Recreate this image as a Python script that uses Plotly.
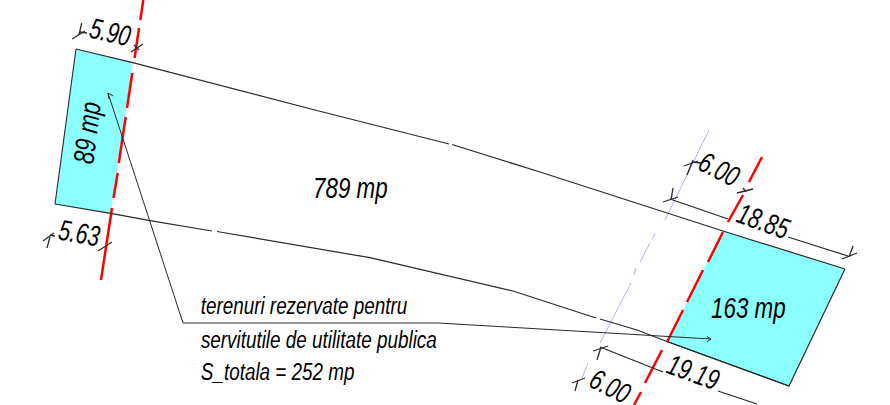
import plotly.graph_objects as go

nan = None
# --- drawing geometry, in reference drawing units ---
left_plot_x = [76, 132.7, 110.7, 55, 76]
left_plot_y = [49, 62.7, 213.3, 204, 49]
right_plot_x = [723, 845, 789, 667, 723]
right_plot_y = [231, 269, 386, 341.5, 231]

top_boundary_x = [76, 132.7, 315, 449, nan, 452, 540, 723, 845]
top_boundary_y = [49, 62.7, 110, 144, nan, 144.5, 172, 231, 269]
bottom_boundary_x = [55, 110.7, 150, 212, nan, 217, 250, 280, 370, 513, 540, 560, 596, nan, 600, 637, 667, 789, 845]
bottom_boundary_y = [204, 213.3, 220.7, 231, nan, 231.5, 237, 242, 257.7, 291, 300, 306.7, 318, nan, 319, 330, 341.5, 386, 269]

red_left_x = [143.3, 140.3, nan, 139, 134.6, nan, 132.3, 127, nan, 125.7, 118.8, nan, 117.7, 113.5, nan, 112, 101]
red_left_y = [0, 20, nan, 28, 58, nan, 73, 108, nan, 117, 163, nan, 173, 198, nan, 208, 280]
red_right_x = [762, 749, nan, 743, 728, nan, 723, 708, nan, 703, 687, nan, 683, 667, nan, 662, 645, nan, 641, 634]
red_right_y = [157, 182, nan, 195, 222, nan, 232, 262, nan, 270, 302, nan, 310, 342, nan, 350, 383, nan, 392, 405]

blue_x = [709, 665, nan, 655, 652, nan, 650, 640, nan, 636, 634, nan, 631, 600, nan, 588, 582]
blue_y = [130, 220, nan, 234, 240, nan, 243, 262, nan, 268, 275, nan, 283, 343, nan, 363, 378]

leader_x = [108, 183, 438, 711, nan, 113, 108, 109, nan, 707, 711, 707]
leader_y = [93, 323, 323, 339, nan, 96, 93, 99, nan, 336.5, 339, 342]

dim_x = [72, 85, nan, 81.7, 79, nan, 80, 87, nan, 131, 143, nan, 134, 139,
         nan, 43, 54, nan, 47, 50, nan, 50, 55, nan, 98, 112,
         nan, 684, 698, nan, 687, 693, nan, 692, 701, nan, 737, 753, nan, 743, 746,
         nan, 663, 678, nan, 673, 671, nan, 670, 728, nan, 788, 848, nan, 842, 857, nan, 853, 849,
         nan, 593, 608, nan, 597, 601, nan, 600, 663, nan, 718, 757,
         nan, 572, 585, nan, 575, 578]
dim_y = [39, 31, nan, 23, 35, nan, 32, 33, nan, 52, 44, nan, 45, 50,
         nan, 241, 233, nan, 248, 237, nan, 235, 236, nan, 251, 242,
         nan, 166, 161, nan, 175, 160, nan, 162, 163, nan, 193, 189, nan, 188, 192,
         nan, 202, 197, nan, 188, 200, nan, 199, 219, nan, 237, 256, nan, 259, 253, nan, 246, 257,
         nan, 351, 346, nan, 360, 347, nan, 347, 372, nan, 391, 404,
         nan, 383, 378, nan, 391, 380]

labels = ["5.90", "89 mp", "5.63", "789 mp", "6.00", "18.85", "163 mp", "19.19", "6.00"]
label_x = [110, 87, 79, 350, 719, 763, 748, 693, 610]
label_y = [32, 133, 233, 188, 169, 221, 308, 372, 386]
label_angle = [13, -83, 10, 0, 27, 20, 0, 20, 27]

note_lines = ["terenuri rezervate pentru", "servitutile de utilitate publica", "S_totala = 252 mp"]
note_x = [303.5, 318.5, 277.5]
note_y = [306, 340, 372]

CYAN = "#8cffff"
RED = "#ff0000"
BLUE = "#a8a8f0"
INK = "#2a2a2a"
FONT = "Liberation Sans, Arial, sans-serif"

fig = go.Figure()


def line(x, y, color, width, fill=None):
    fig.add_trace(go.Scatter(
        x=x, y=y, mode="lines", hoverinfo="skip", showlegend=False,
        line=dict(color=color, width=width), fill=fill,
        fillcolor=CYAN if fill else None, connectgaps=False))


line(left_plot_x, left_plot_y, "rgba(0,0,0,0)", 0, "toself")
line(right_plot_x, right_plot_y, "rgba(0,0,0,0)", 0, "toself")
line(left_plot_x[3:], left_plot_y[3:], INK, 1.1)
line(right_plot_x[2:4], right_plot_y[2:4], INK, 1.1)
line(blue_x, blue_y, BLUE, 0.9)
line(red_left_x, red_left_y, RED, 2.5)
line(red_right_x, red_right_y, RED, 2.5)
line(top_boundary_x, top_boundary_y, INK, 1.2)
line(bottom_boundary_x, bottom_boundary_y, INK, 1.2)
line(leader_x, leader_y, INK, 1)
line(dim_x, dim_y, INK, 1.3)

for t, x, y, a in zip(labels, label_x, label_y, label_angle):
    fig.add_annotation(x=x, y=y, text=t, textangle=a, showarrow=False,
                       xanchor="center", yanchor="middle",
                       font=dict(family=FONT, size=29, color="#000000", style="italic"))
for t, x, y in zip(note_lines, note_x, note_y):
    fig.add_annotation(x=x, y=y, text=t, showarrow=False,
                       xanchor="center", yanchor="middle",
                       font=dict(family=FONT, size=23, color="#000000", style="italic"))

# The reference lettering is a condensed italic: no condensed face is installed,
# so the real text elements are narrowed with SVG textLength.
condense = """
document.body.style.margin = '0';
document.querySelectorAll('.annotation-text').forEach(function (t) {
  var s = t.textContent;
  var r = t.style.fontSize === '23px' ? 0.82 : (s.indexOf('.') >= 0 ? 0.73 : 0.77);
  t.setAttribute('textLength', t.getComputedTextLength() * r);
  t.setAttribute('lengthAdjust', 'spacingAndGlyphs');
});
"""

fig.update_layout(
    width=890, height=405, margin=dict(l=0, r=0, t=0, b=0),
    paper_bgcolor="white", plot_bgcolor="white",
    xaxis=dict(range=[0, 890], visible=False, fixedrange=True),
    yaxis=dict(range=[405, 0], visible=False, fixedrange=True),
)
fig.write_html("out.html", post_script=condense, config={"displayModeBar": False})
